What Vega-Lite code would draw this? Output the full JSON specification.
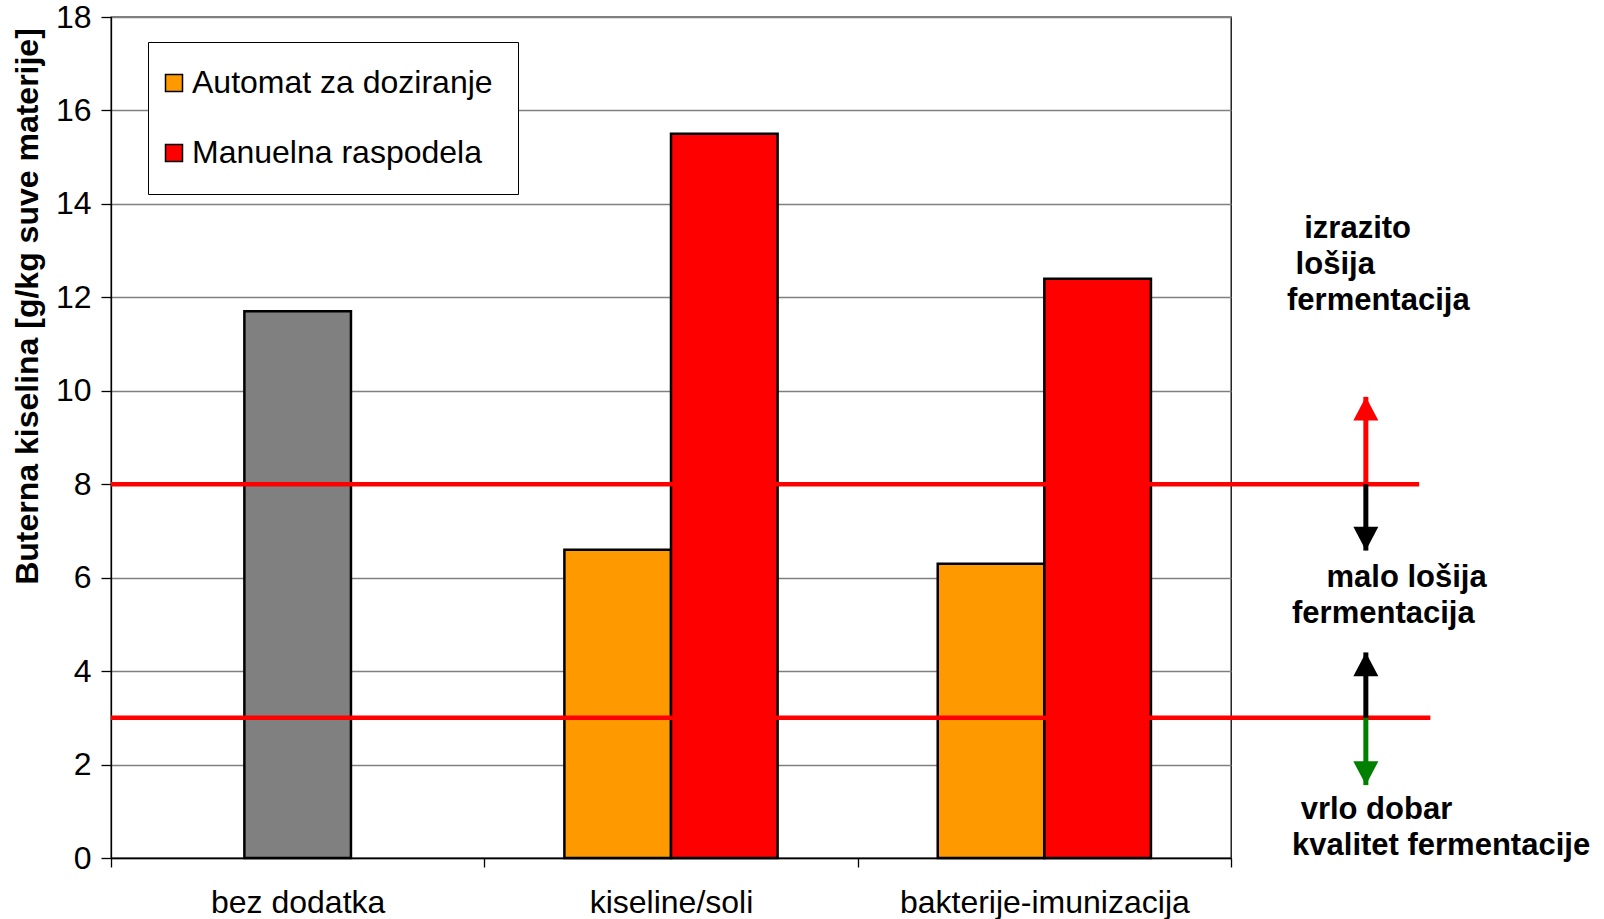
{
  "$schema": "https://vega.github.io/schema/vega-lite/v6.json",
  "width": 1120,
  "height": 841,
  "autosize": {"type": "none"},
  "padding": {"left": 111, "top": 17, "right": 373, "bottom": 61},
  "background": "#ffffff",
  "config": {
    "font": "Liberation Sans",
    "view": {"stroke": "#000000", "strokeWidth": 1.3},
    "axis": {
      "labelFont": "Liberation Sans",
      "labelFontSize": 32,
      "labelColor": "#000000",
      "tickColor": "#000000",
      "domainColor": "#000000",
      "tickWidth": 1.3,
      "domainWidth": 1.3
    },
    "axisY": {
      "tickCount": 10,
      "grid": true,
      "gridColor": "#808080",
      "gridWidth": 1.3,
      "tickSize": 10,
      "labelPadding": 10,
      "titleFont": "Liberation Sans",
      "titleFontSize": 32,
      "titleFontWeight": "bold",
      "titleColor": "#000000",
      "titleAngle": -90,
      "titleAlign": "center",
      "titleBaseline": "alphabetic",
      "titleX": -74,
      "titleY": 289
    },
    "text": {
      "align": "left",
      "baseline": "alphabetic",
      "font": "Liberation Sans",
      "fontSize": 31,
      "fontWeight": "bold",
      "color": "#000000",
      "lineBreak": "\n",
      "lineHeight": 36
    }
  },
  "datasets": {
    "kiselina": [
      {"kategorija": "bez dodatka", "tretman": "bez dodatka", "vrednost": 11.7},
      {"kategorija": "kiseline/soli", "tretman": "Automat za doziranje", "vrednost": 6.6},
      {"kategorija": "kiseline/soli", "tretman": "Manuelna raspodela", "vrednost": 15.5},
      {"kategorija": "bakterije-imunizacija", "tretman": "Automat za doziranje", "vrednost": 6.3},
      {"kategorija": "bakterije-imunizacija", "tretman": "Manuelna raspodela", "vrednost": 12.4}
    ],
    "granice": [
      {"granica": 8, "kraj": 1.168},
      {"granica": 3, "kraj": 1.178}
    ],
    "strelice": [
      {"strelica": "gore", "zona": "izrazito lošija", "od": 8, "vrh": 9.87},
      {"strelica": "dole", "zona": "malo lošija", "od": 8, "vrh": 6.58},
      {"strelica": "gore", "zona": "malo lošija", "od": 3, "vrh": 4.4},
      {"strelica": "dole", "zona": "vrlo dobar", "od": 3, "vrh": 1.56}
    ],
    "opisi": [
      {"zona": "izrazito lošija", "opis": "\u200b\u00a0\u00a0izrazito\n\u200b\u00a0lošija\nfermentacija", "nivo": 13.28},
      {"zona": "malo lošija", "opis": "\u200b\u00a0\u00a0\u00a0\u00a0malo lošija\n\u200bfermentacija", "nivo": 5.8},
      {"zona": "vrlo dobar", "opis": "\u200b\u00a0vrlo dobar\nkvalitet fermentacije", "nivo": 0.835}
    ]
  },
  "layer": [
    {
      "data": {"name": "kiselina"},
      "layer": [
        {
          "transform": [{"filter": "datum.tretman === 'bez dodatka'"}],
          "mark": {"type": "bar", "color": "#808080", "stroke": "#000000", "strokeWidth": 2.5, "width": {"band": 0.2855}},
          "encoding": {
            "x": {
              "field": "kategorija",
              "type": "nominal",
              "sort": ["bez dodatka", "kiseline/soli", "bakterije-imunizacija"],
              "scale": {"domain": ["bez dodatka", "kiseline/soli", "bakterije-imunizacija"], "paddingInner": 0, "paddingOuter": 0},
              "axis": {"title": null, "labelAngle": 0, "labelLimit": 0, "tickBand": "extent", "tickSize": 9, "labelPadding": 20, "grid": false}
            },
            "y": {
              "field": "vrednost",
              "type": "quantitative",
              "title": "Buterna kiselina [g/kg suve materije]",
              "scale": {"domain": [0, 18], "nice": false}
            }
          }
        },
        {
          "transform": [{"filter": "datum.tretman !== 'bez dodatka'"}],
          "mark": {"type": "bar", "stroke": "#000000", "strokeWidth": 2.5},
          "encoding": {
            "x": {
              "field": "kategorija",
              "type": "nominal",
              "sort": ["bez dodatka", "kiseline/soli", "bakterije-imunizacija"]
            },
            "xOffset": {
              "field": "tretman",
              "type": "nominal",
              "scale": {"domain": ["Automat za doziranje", "Manuelna raspodela"], "paddingInner": 0, "paddingOuter": 0.751}
            },
            "y": {"field": "vrednost", "type": "quantitative", "title": "Buterna kiselina [g/kg suve materije]"},
            "color": {
              "field": "tretman",
              "type": "nominal",
              "scale": {"domain": ["Automat za doziranje", "Manuelna raspodela"], "range": ["#FF9900", "#FF0000"]},
              "legend": {
                "title": null,
                "orient": "none",
                "legendX": 37,
                "legendY": 25,
                "direction": "vertical",
                "symbolType": "square",
                "symbolSize": 289,
                "symbolStrokeColor": "#000000",
                "symbolStrokeWidth": 1.5,
                "symbolOpacity": 1,
                "symbolOffset": -15,
                "labelFont": "Liberation Sans",
                "labelFontSize": 32,
                "labelColor": "#000000",
                "labelOffset": 2,
                "labelLimit": 600,
                "rowPadding": 38,
                "padding": 25,
                "strokeColor": "#000000",
                "fillColor": "#ffffff"
              }
            }
          }
        }
      ]
    },
    {
      "layer": [
        {
          "data": {"name": "granice"},
          "mark": {"type": "rule", "color": "#FF0000", "strokeWidth": 4.5},
          "encoding": {
            "x": {"field": "kraj", "type": "quantitative", "scale": {"domain": [0, 1], "nice": false, "zero": false}, "axis": null},
            "x2": {"datum": 0},
            "y": {"field": "granica", "type": "quantitative", "title": "Buterna kiselina [g/kg suve materije]"}
          }
        },
        {
          "data": {"name": "strelice"},
          "mark": {"type": "rule", "strokeWidth": 5},
          "encoding": {
            "x": {"datum": 1.1204, "type": "quantitative", "axis": null},
            "y": {"field": "od", "type": "quantitative", "title": "Buterna kiselina [g/kg suve materije]"},
            "y2": {"field": "vrh"},
            "color": {
              "field": "zona",
              "type": "nominal",
              "scale": {"domain": ["izrazito lošija", "malo lošija", "vrlo dobar"], "range": ["#FF0000", "#000000", "#008000"]},
              "legend": null
            }
          }
        },
        {
          "data": {"name": "strelice"},
          "mark": {"type": "point", "filled": true, "opacity": 1, "size": 625, "strokeWidth": 0},
          "encoding": {
            "x": {"datum": 1.1204, "type": "quantitative", "axis": null},
            "y": {"field": "vrh", "type": "quantitative", "title": "Buterna kiselina [g/kg suve materije]"},
            "shape": {
              "field": "strelica",
              "type": "nominal",
              "scale": {"domain": ["gore", "dole"], "range": ["M0,0L-1,1.9L1,1.9Z", "M0,0L-1,-1.9L1,-1.9Z"]},
              "legend": null
            },
            "color": {"field": "zona", "type": "nominal", "legend": null}
          }
        },
        {
          "data": {"name": "opisi"},
          "transform": [{"filter": "datum.zona === 'izrazito lošija'"}],
          "mark": {"type": "text"},
          "encoding": {
            "x": {"datum": 1.05, "type": "quantitative", "axis": null},
            "y": {"field": "nivo", "type": "quantitative", "title": "Buterna kiselina [g/kg suve materije]"},
            "text": {"field": "opis"}
          }
        },
        {
          "data": {"name": "opisi"},
          "transform": [{"filter": "datum.zona !== 'izrazito lošija'"}],
          "mark": {"type": "text"},
          "encoding": {
            "x": {"datum": 1.0545, "type": "quantitative", "axis": null},
            "y": {"field": "nivo", "type": "quantitative", "title": "Buterna kiselina [g/kg suve materije]"},
            "text": {"field": "opis"}
          }
        }
      ]
    }
  ],
  "resolve": {"scale": {"x": "independent", "color": "independent"}}
}
